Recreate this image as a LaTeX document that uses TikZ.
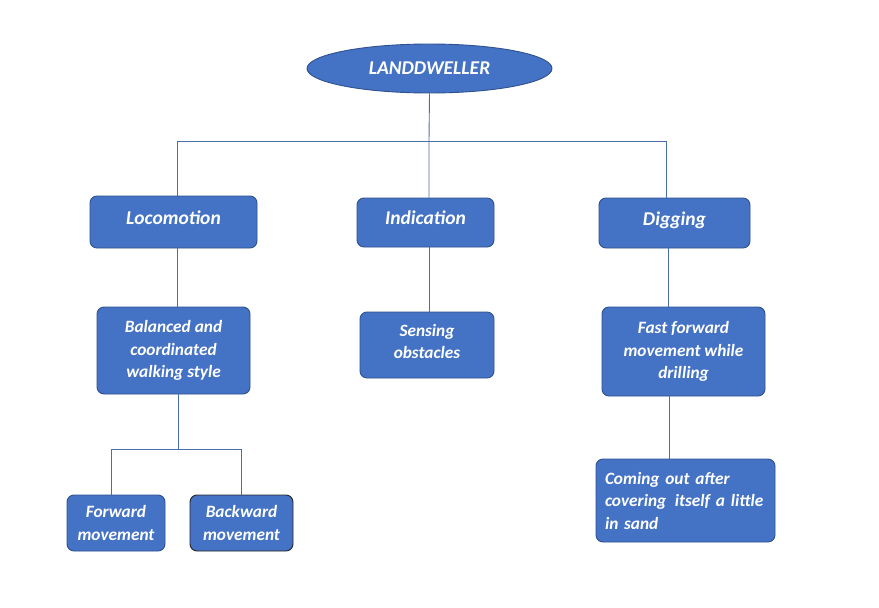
\documentclass[tikz,border=0pt]{standalone}
\usepackage{fontspec}
\setmainfont{Carlito}
\usetikzlibrary{shapes.geometric}
\definecolor{boxfill}{HTML}{4472C4}
\definecolor{boxline}{HTML}{2F528F}
\definecolor{connline}{HTML}{4A6FA5}
\tikzset{
  box/.style={draw=boxline, line width=0.9pt, fill=boxfill, rounded corners=7pt,
    text=white, font=\fontsize{17.3}{22.5}\selectfont\bfseries\itshape,
    inner sep=0pt, align=center},
  titlebox/.style={box, font=\fontsize{19.5}{22.5}\selectfont\bfseries\itshape,
    text height=13pt, text depth=9pt},
  conn/.style={draw=connline, line width=0.9pt},
}
\begin{document}
\begin{tikzpicture}[x=1pt,y=-1pt]
\useasboundingbox[fill=white] (0,0) rectangle (879,608);
\node[box, ellipse, font=\fontsize{19.5}{22.5}\selectfont\bfseries\itshape, minimum width=245pt, minimum height=49pt] (root) at (429.5,68.5) {LANDDWELLER};
\node[titlebox, minimum width=167pt, minimum height=52pt] (loco) at (173.5,222) {Locomotion};
\node[titlebox, minimum width=137pt, minimum height=49pt] (ind) at (425.5,222.5) {Indication};
\node[titlebox, minimum width=151pt, minimum height=50pt] (dig) at (674.5,223) {Digging};
\node[box, minimum width=153pt, minimum height=87pt] (bal) at (173.5,350.5) {Balanced and\\coordinated\\walking style};
\node[box, minimum width=134pt, minimum height=66pt, text depth=7pt] (sens) at (427,345) {Sensing\\obstacles};
\node[box, minimum width=163pt, minimum height=89pt] (fast) at (683.5,351.5) {Fast forward\\movement while\\drilling};
\node[box, minimum width=179pt, minimum height=83pt, align=left, text width=161pt] (come) at (685.5,500.5) {Coming out after\\covering\,\ itself a little\\in sand};
\node[box, minimum width=98pt, minimum height=56pt] (fwd) at (116,523) {Forward\\movement};
\node[box, draw=black!85, minimum width=103pt, minimum height=56pt] (bwd) at (241.5,523) {Backward\\movement};
% connectors
\coordinate (barL) at (177,141);
\coordinate (barR) at (666,141);
\coordinate (barM) at (429,141);
\coordinate (lowL) at (111,449);
\coordinate (lowR) at (241,449);
\coordinate (lowM) at (178,449);
\draw[conn] (root.south) -- (barM) -- (barM |- ind.north);
\draw[conn] (barL |- loco.north) -- (barL) -- (barR) -- (barR |- dig.north);
\draw[conn] (barL |- loco.south) -- (barL |- bal.north);
\draw[conn] (barM |- ind.south) -- (barM |- sens.north);
\draw[conn] (668,0 |- dig.south) -- (668,0 |- fast.north);
\draw[conn] (669,0 |- fast.south) -- (669,0 |- come.north);
\draw[conn] (lowM |- bal.south) -- (lowM);
\draw[conn] (lowL |- fwd.north) -- (lowL) -- (lowR) -- (lowR |- bwd.north);
\end{tikzpicture}
\end{document}
